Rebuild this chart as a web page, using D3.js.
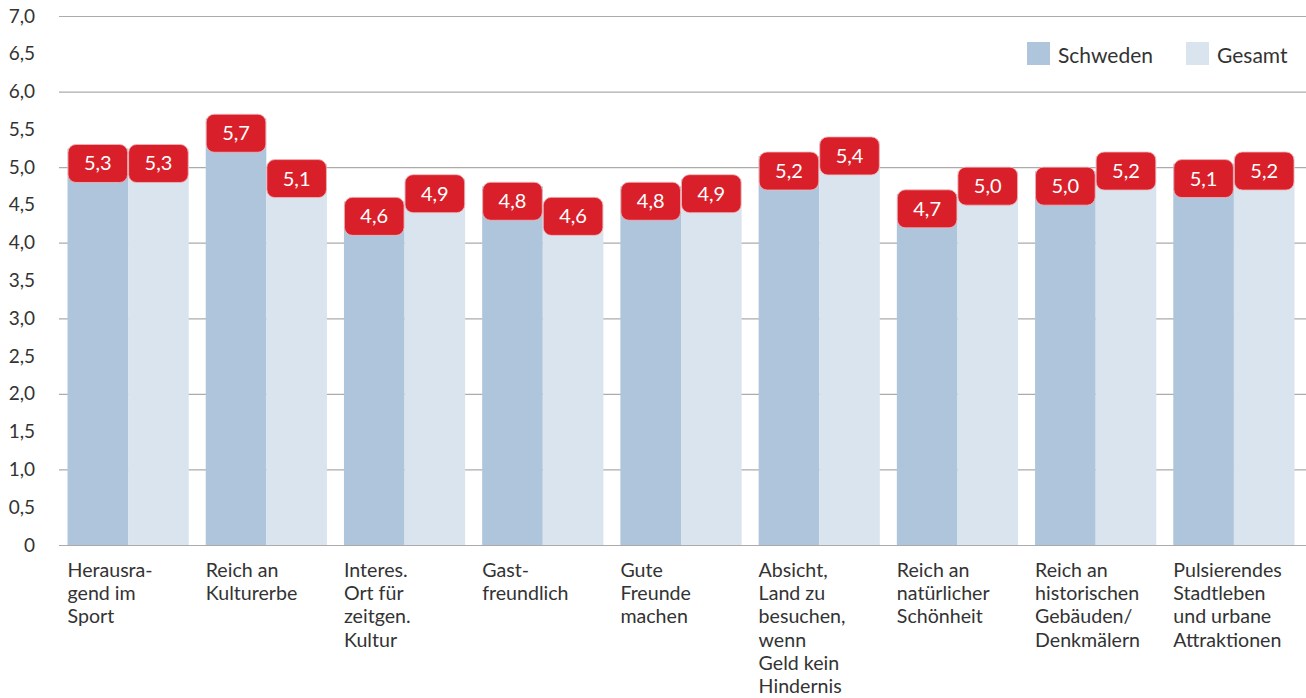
<!DOCTYPE html>
<html>
<head>
<meta charset="utf-8">
<script src="https://cdn.jsdelivr.net/npm/d3@7"></script>
<style>
body { margin: 0; background: #fff; }
svg { font-family: Lato, "Open Sans", sans-serif; }
</style>
</head>
<body>
<div id="chart"></div>
<script>
var categories = [
  ["Herausra-", "gend im", "Sport"],
  ["Reich an", "Kulturerbe"],
  ["Interes.", "Ort für", "zeitgen.", "Kultur"],
  ["Gast-", "freundlich"],
  ["Gute", "Freunde", "machen"],
  ["Absicht,", "Land zu", "besuchen,", "wenn", "Geld kein", "Hindernis"],
  ["Reich an", "natürlicher", "Schönheit"],
  ["Reich an", "historischen", "Gebäuden/", "Denkmälern"],
  ["Pulsierendes", "Stadtleben", "und urbane", "Attraktionen"]
];
var schweden = [5.3, 5.7, 4.6, 4.8, 4.8, 5.2, 4.7, 5.0, 5.1];
var gesamt   = [5.3, 5.1, 4.9, 4.6, 4.9, 5.4, 5.0, 5.2, 5.2];
var seriesNames = ["Schweden", "Gesamt"];
var yTicks = [0, 0.5, 1, 1.5, 2, 2.5, 3, 3.5, 4, 4.5, 5, 5.5, 6, 6.5, 7];
var gridTicks = [1, 2, 3, 4, 5, 6, 7];

var width = 1306, height = 698;
var colors = ["#afc5dc", "#dae4ee"];
var red = "#d9202a";

var svg = d3.select("#chart").append("svg")
  .attr("width", width)
  .attr("height", height);

var x0 = d3.scaleBand()
  .domain(d3.range(categories.length))
  .range([59, 1303])
  .paddingInner(0.123)
  .paddingOuter(0.0615);

var x1 = d3.scaleBand()
  .domain([0, 1])
  .range([0, x0.bandwidth()]);

var y = d3.scaleLinear()
  .domain([0, 7])
  .range([545, 16]);

// grid lines
svg.append("g").selectAll("line")
  .data(gridTicks)
  .enter().append("line")
  .attr("x1", 59).attr("x2", width)
  .attr("y1", function(d) { return y(d) + 0.5; })
  .attr("y2", function(d) { return y(d) + 0.5; })
  .attr("stroke", "#ababab")
  .attr("stroke-width", 1.2);

// y labels
svg.append("g").selectAll("text")
  .data(yTicks)
  .enter().append("text")
  .attr("x", 35)
  .attr("y", function(d) { return y(d) + 6.5; })
  .attr("text-anchor", "end")
  .attr("font-size", 19)
  .attr("fill", "#333")
  .text(function(d) { return d === 0 ? "0" : d3.format(".1f")(d).replace(".", ","); });

var rows = categories.map(function(c, i) {
  return { i: i, vals: [schweden[i], gesamt[i]] };
});

var groups = svg.append("g").selectAll("g")
  .data(rows)
  .enter().append("g")
  .attr("transform", function(d) { return "translate(" + x0(d.i) + ",0)"; });

groups.selectAll("rect.bar")
  .data(function(d) { return d.vals; })
  .enter().append("rect")
  .attr("class", "bar")
  .attr("x", function(d, j) { return x1(j); })
  .attr("y", function(d) { return y(d) + 4; })
  .attr("width", x1.bandwidth())
  .attr("height", function(d) { return y(0) - y(d) - 4; })
  .attr("fill", function(d, j) { return colors[j]; });

// baseline
svg.append("line")
  .attr("x1", 59).attr("x2", width)
  .attr("y1", y(0) + 0.5).attr("y2", y(0) + 0.5)
  .attr("stroke", "#ababab")
  .attr("stroke-width", 1.2);

// value boxes
groups.selectAll("rect.box")
  .data(function(d) { return d.vals; })
  .enter().append("rect")
  .attr("class", "box")
  .attr("x", function(d, j) { return x1(j) + 0.5; })
  .attr("y", function(d) { return y(d); })
  .attr("width", x1.bandwidth() - 1)
  .attr("height", 38)
  .attr("rx", 8)
  .attr("fill", red)
  .attr("stroke", "#f2b9bb")
  .attr("stroke-width", 0.8);

groups.selectAll("text.val")
  .data(function(d) { return d.vals; })
  .enter().append("text")
  .attr("class", "val")
  .attr("x", function(d, j) { return x1(j) + x1.bandwidth() / 2; })
  .attr("y", function(d) { return y(d) + 26; })
  .attr("text-anchor", "middle")
  .attr("font-size", 20)
  .attr("fill", "#fff")
  .text(function(d) { return d3.format(".1f")(d).replace(".", ","); });

// category labels
groups.append("text")
  .attr("font-size", 19.6)
  .attr("fill", "#333")
  .selectAll("tspan")
  .data(function(d) { return categories[d.i]; })
  .enter().append("tspan")
  .attr("x", 0)
  .attr("y", function(d, k) { return 577 + k * 23.2; })
  .text(function(d) { return d; });

// legend
var legX = [1027, 1186];
var leg = svg.append("g").selectAll("g")
  .data(seriesNames)
  .enter().append("g")
  .attr("transform", function(d, i) { return "translate(" + legX[i] + ",42)"; });
leg.append("rect")
  .attr("width", 23).attr("height", 23)
  .attr("fill", function(d, i) { return colors[i]; });
leg.append("text")
  .attr("x", 31).attr("y", 21)
  .attr("font-size", 21)
  .attr("fill", "#333")
  .text(function(d) { return d; });
</script>
</body>
</html>
